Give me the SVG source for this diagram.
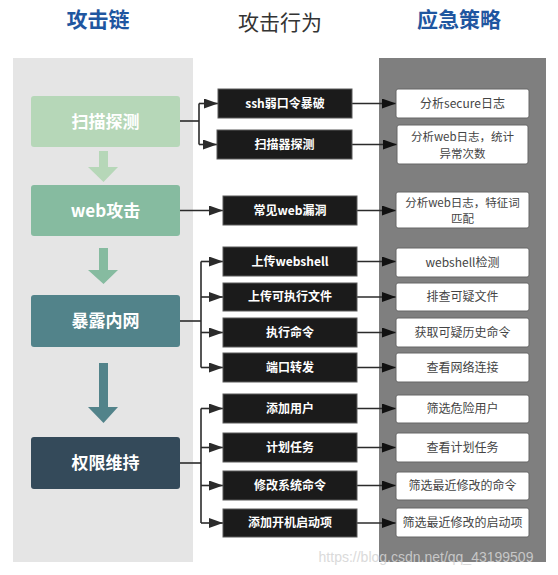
<svg xmlns="http://www.w3.org/2000/svg" width="558" height="575" viewBox="0 0 558 575">
<style>
text{font-family:"Noto Sans CJK SC","Noto Sans",sans-serif;text-anchor:middle}
.title{font-size:21px;font-weight:bold;fill:#1f56a0}
.title2{font-size:21px;fill:#333}
.lt{font-size:17px;font-weight:bold;fill:#fff}
.mid rect{fill:#1b1b1b;stroke:#5a5a5a;stroke-width:1}
.mid text{font-size:12px;font-weight:bold;fill:#fff}
.res rect{fill:#fff;stroke:#666;stroke-width:1}
.res text{font-size:12px;fill:#444}
.res text.two{font-size:11.5px}
.con path{fill:none;stroke:#2b2b2b;stroke-width:1.6}
</style>
<defs>
<marker id="ah" markerUnits="userSpaceOnUse" markerWidth="14" markerHeight="10" refX="14" refY="5" orient="auto">
<path d="M0,0 L14,5 L0,10 Z" fill="#2b2b2b"/>
</marker>
<marker id="ah2" markerUnits="userSpaceOnUse" markerWidth="14" markerHeight="10" refX="14" refY="5" orient="auto">
<path d="M0,0 L14,5 L0,10 Z" fill="#111"/>
</marker>
</defs>
<rect width="558" height="575" fill="#fff"/>
<rect x="13" y="58" width="180" height="504" fill="#e5e5e5"/>
<rect x="379" y="58" width="167" height="504" fill="#7f7f7f"/>
<text class="title" x="98" y="27">攻击链</text>
<text class="title2" x="280" y="30">攻击行为</text>
<text class="title" x="459" y="27">应急策略</text>
<g id="down-arrows">
<path d="M99,151 H108 V167 H118 L103.5,182 L88,167 H99 Z" fill="#b6d7b8"/>
<path d="M99,248 H108 V270 H118 L103.5,284 L88,270 H99 Z" fill="#86bba0"/>
<path d="M99,363 H108 V407 H118 L103.5,423 L88,407 H99 Z" fill="#52838a"/>
</g>
<g id="stage-scan"><rect x="31" y="96" width="149" height="51" rx="3" fill="#b6d7b8"/><text class="lt" x="105.5" y="127.5">扫描探测</text></g>
<g id="stage-web"><rect x="31" y="185" width="149" height="51" rx="3" fill="#86bba0"/><text class="lt" x="105.5" y="216.5">web攻击</text></g>
<g id="stage-intranet"><rect x="31" y="295" width="149" height="52" rx="3" fill="#52838a"/><text class="lt" x="105.5" y="327">暴露内网</text></g>
<g id="stage-persist"><rect x="31" y="437" width="149" height="52" rx="3" fill="#344a5a"/><text class="lt" x="105.5" y="469">权限维持</text></g>
<g class="con" id="connectors">
<path d="M180,121 H199"/>
<path d="M199,103.5 V144.5"/>
<path d="M199,103.5 H218" marker-end="url(#ah)"/>
<path d="M199,144.5 H217" marker-end="url(#ah)"/>
<path d="M180,210.5 H223" marker-end="url(#ah)"/>
<path d="M180,321 H201"/>
<path d="M201,261.5 V367.5"/>
<path d="M201,261.5 H223" marker-end="url(#ah)"/>
<path d="M201,297 H223" marker-end="url(#ah)"/>
<path d="M201,332.5 H223" marker-end="url(#ah)"/>
<path d="M201,367.5 H223" marker-end="url(#ah)"/>
<path d="M180,463 H201"/>
<path d="M201,408.5 V523"/>
<path d="M201,408.5 H223" marker-end="url(#ah)"/>
<path d="M201,447.5 H223" marker-end="url(#ah)"/>
<path d="M201,485.5 H223" marker-end="url(#ah)"/>
<path d="M201,523 H223" marker-end="url(#ah)"/>
<path d="M352,103.5 H396" marker-end="url(#ah2)"/>
<path d="M352,144.5 H397" marker-end="url(#ah2)"/>
<path d="M357,210.5 H396" marker-end="url(#ah2)"/>
<path d="M357,261.5 H396" marker-end="url(#ah2)"/>
<path d="M357,297 H396" marker-end="url(#ah2)"/>
<path d="M357,332.5 H396" marker-end="url(#ah2)"/>
<path d="M357,367.5 H396" marker-end="url(#ah2)"/>
<path d="M357,408.5 H396" marker-end="url(#ah2)"/>
<path d="M357,447.5 H396" marker-end="url(#ah2)"/>
<path d="M357,485.5 H396" marker-end="url(#ah2)"/>
<path d="M357,523 H396" marker-end="url(#ah2)"/>
</g>
<g class="mid">
<g id="act-ssh"><rect x="218" y="89" width="134" height="29"/><text x="285" y="107.5">ssh弱口令暴破</text></g>
<g id="act-scanner"><rect x="217" y="130" width="135" height="29"/><text x="284.5" y="148.5">扫描器探测</text></g>
<g id="act-webvuln"><rect x="223" y="196" width="134" height="29"/><text x="290" y="214.5">常见web漏洞</text></g>
<g id="act-webshell"><rect x="223" y="247" width="134" height="29"/><text x="290" y="265.5">上传webshell</text></g>
<g id="act-upload"><rect x="223" y="283" width="134" height="28"/><text x="290" y="301">上传可执行文件</text></g>
<g id="act-exec"><rect x="223" y="318" width="134" height="29"/><text x="290" y="336.5">执行命令</text></g>
<g id="act-forward"><rect x="223" y="353" width="134" height="29"/><text x="290" y="371.5">端口转发</text></g>
<g id="act-adduser"><rect x="223" y="394" width="134" height="29"/><text x="290" y="412.5">添加用户</text></g>
<g id="act-cron"><rect x="223" y="433" width="134" height="29"/><text x="290" y="451.5">计划任务</text></g>
<g id="act-modcmd"><rect x="223" y="471" width="134" height="29"/><text x="290" y="489.5">修改系统命令</text></g>
<g id="act-boot"><rect x="223" y="509" width="134" height="28"/><text x="290" y="527">添加开机启动项</text></g>
</g>
<g class="res">
<g id="res-secure"><rect x="396" y="89" width="133" height="29" rx="2"/><text x="462.5" y="107.5">分析secure日志</text></g>
<g id="res-weblog1"><rect x="397" y="125" width="131" height="39" rx="2"/><text class="two" x="462.5" y="141">分析web日志，统计</text><text class="two" x="462.5" y="157.5">异常次数</text></g>
<g id="res-weblog2"><rect x="396" y="192" width="133" height="36" rx="2"/><text class="two" x="462.5" y="206.5">分析web日志，特征词</text><text class="two" x="462.5" y="223">匹配</text></g>
<g id="res-webshell"><rect x="396" y="248" width="133" height="29" rx="2"/><text x="462.5" y="266.5">webshell检测</text></g>
<g id="res-files"><rect x="396" y="283" width="133" height="28" rx="2"/><text x="462.5" y="301">排查可疑文件</text></g>
<g id="res-history"><rect x="396" y="318" width="133" height="29" rx="2"/><text x="462.5" y="336.5">获取可疑历史命令</text></g>
<g id="res-net"><rect x="396" y="353" width="133" height="29" rx="2"/><text x="462.5" y="371.5">查看网络连接</text></g>
<g id="res-users"><rect x="396" y="395" width="133" height="28" rx="2"/><text x="462.5" y="413">筛选危险用户</text></g>
<g id="res-cron"><rect x="396" y="433" width="133" height="29" rx="2"/><text x="462.5" y="451.5">查看计划任务</text></g>
<g id="res-cmd"><rect x="396" y="472" width="133" height="28" rx="2"/><text x="462.5" y="490">筛选最近修改的命令</text></g>
<g id="res-boot"><rect x="396" y="508" width="133" height="29" rx="2"/><text x="462.5" y="526.5">筛选最近修改的启动项</text></g>
</g>
<text x="426" y="562" style="font-family:'Liberation Sans',sans-serif;font-size:14px;fill:#d4d4d4;opacity:0.85">https://blog.csdn.net/qq_43199509</text>
</svg>
